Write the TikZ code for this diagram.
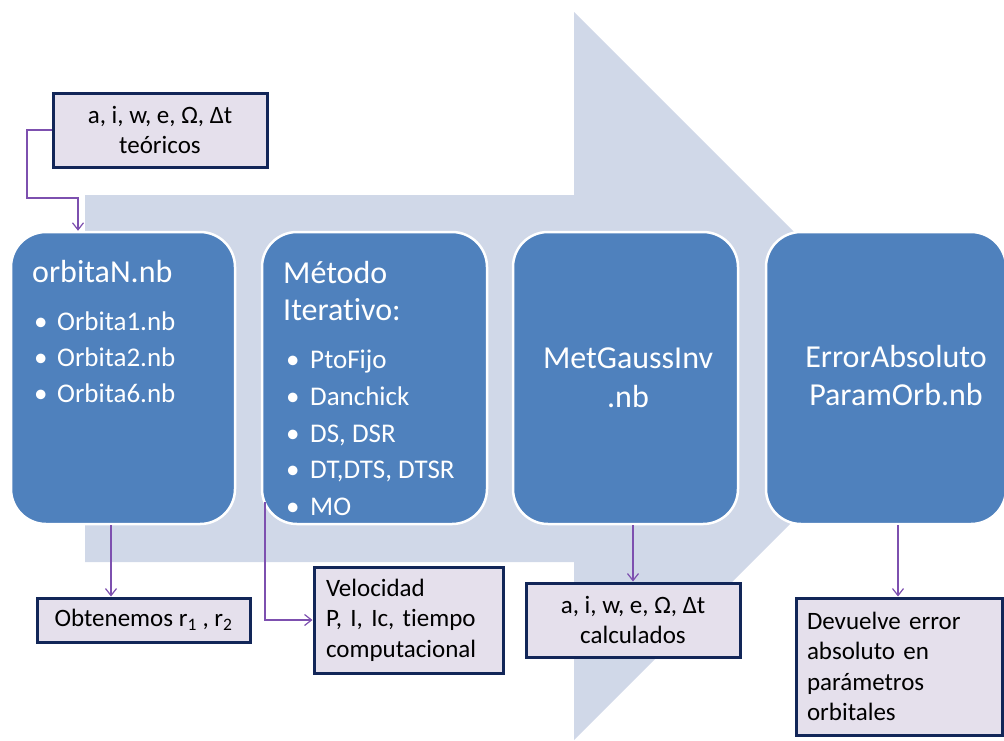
\documentclass[tikz,border=0pt]{standalone}
\usepackage{fontspec}
\setmainfont{Carlito}[Ligatures={NoCommon}]
\usetikzlibrary{arrows.meta,calc}
\definecolor{arrowbg}{RGB}{208,216,232}
\definecolor{boxblue}{RGB}{79,129,189}
\definecolor{lav}{RGB}{229,224,236}
\definecolor{navy}{RGB}{18,38,88}
\definecolor{connc}{RGB}{125,80,175}
\begin{document}
\begin{tikzpicture}[x=1pt,y=-1pt,
  bluebox/.style={draw=white,line width=2.5pt,fill=boxblue,rounded corners=35pt,inner sep=0pt},
  lavbox/.style={draw=navy,line width=3pt,fill=lav,inner sep=0pt,font=\fontsize{25}{30.5}\selectfont},
  conn/.style={draw=connc,line width=1.2pt,-{Straight Barb[length=7pt,width=11pt]}},
  title/.style={text=white,font=\fontsize{32}{39}\selectfont,inner sep=0pt},
  item/.style={text=white,font=\fontsize{27}{33}\selectfont,inner sep=0pt,anchor=base west},
]
\useasboundingbox (0,0) rectangle (1004,740);
\clip (0,0) rectangle (1004,740);
% big background arrow
\fill[arrowbg] (85,195) -- (574,195) -- (574,12) -- (938,376) -- (574,740) -- (574,562) -- (85,562) -- cycle;
% blue rounded boxes
\node[bluebox,minimum width=224pt,minimum height=292pt] (o1) at (123,378) {};
\node[bluebox,minimum width=225pt,minimum height=292pt] (o2) at (374.5,378) {};
\node[bluebox,minimum width=225pt,minimum height=292pt] (o3) at (625.5,378) {};
\node[bluebox,minimum width=240pt,minimum height=292pt] (o4) at (886,378) {};
% box texts
\node[title,anchor=base west] (t1) at (32,282) {orbitaN.nb};
\node[item] (t1a) at (34,330) {\makebox[23pt][l]{•}Orbita1.nb};
\node[item] (t1b) at (34,366) {\makebox[23pt][l]{•}Orbita2.nb};
\node[item] (t1c) at (34,402) {\makebox[23pt][l]{•}Orbita6.nb};
\node[title,anchor=base west] (t2) at (283,283) {Método};
\node[title,anchor=base west] (t2b) at (283,320) {Iterativo:};
\node[item] (t2c) at (286,368) {\makebox[24pt][l]{•}PtoFijo};
\node[item] (t2d) at (286,405) {\makebox[24pt][l]{•}Danchick};
\node[item] (t2e) at (286,442) {\makebox[24pt][l]{•}DS, DSR};
\node[item] (t2f) at (286,478) {\makebox[24pt][l]{•}DT,DTS, DTSR};
\node[item] (t2g) at (286,515) {\makebox[24pt][l]{•}MO};
\node[title,anchor=base] (t3) at (628,368) {MetGaussInv};
\node[title,anchor=base] (t3b) at (628,407) {.nb};
\node[title,anchor=base] (t4) at (896,367) {ErrorAbsoluto};
\node[title,anchor=base] (t4b) at (896,405) {ParamOrb.nb};
% lavender boxes
\node[lavbox,minimum width=214pt,minimum height=74pt,align=center] (A) at (160,130) {a, i, w, e, Ω, Δt\\teóricos};
\node[lavbox,minimum width=213pt,minimum height=44pt] (B) at (143.5,620) {Obtenemos r\textsubscript{1} , r\textsubscript{2}};
\node[lavbox,minimum height=106pt,text width=165pt,inner xsep=12pt,align=left] (C) at (408.5,620) {Velocidad\\P, I, Ic, tiempo\\computacional};
\node[lavbox,minimum width=214pt,minimum height=74pt,align=center] (D) at (633,620) {a, i, w, e, Ω, Δt\\calculados};
\node[lavbox,minimum height=137pt,text width=184pt,inner xsep=11pt,align=left] (E) at (899,666.5) {Devuelve error\\absoluto en\\parámetros\\orbitales};
% connectors
\coordinate (k1) at (27,198);
\coordinate (k1b) at (78,198);
\draw[conn] (A.west) -| (k1) -| (k1b |- o1.north);
\coordinate (k2) at (111,0);
\draw[conn] (k2 |- o1.south) -- (k2 |- B.north);
\coordinate (k3) at (265,502);
\draw[conn] (k3) |- (C.west);
\coordinate (k4) at (633,0);
\draw[conn] (k4 |- o3.south) -- (k4 |- D.north);
\coordinate (k5) at (898,0);
\draw[conn] (k5 |- o4.south) -- (k5 |- E.north);
\end{tikzpicture}
\end{document}
